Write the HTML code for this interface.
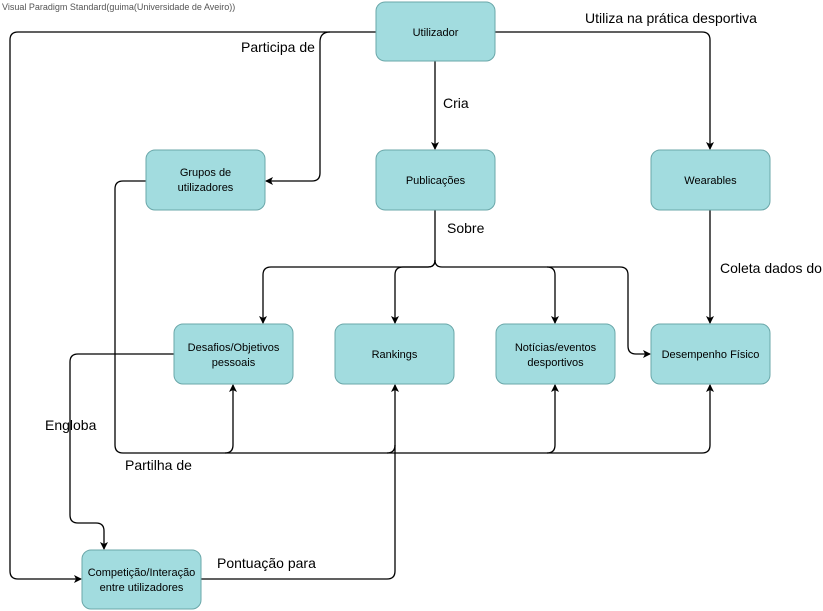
<!DOCTYPE html>
<html><head><meta charset="utf-8"><style>
body{margin:0;background:#fff;width:823px;height:611px;overflow:hidden}
svg{display:block}
text{font-family:"Liberation Sans",sans-serif}
.b{fill:#a2dcdf;stroke:#6aa7a9;stroke-width:1}
.t{font-size:11px;fill:#000;text-anchor:middle}
.l{font-size:14px;fill:#000}
.c{fill:none;stroke:#000;stroke-width:1.3}
</style></head><body>
<svg width="823" height="611" viewBox="0 0 823 611">
<defs><marker id="a" markerWidth="8" markerHeight="8" refX="7" refY="4" orient="auto" markerUnits="userSpaceOnUse"><path d="M0,0 L8,4 L0,8 L2,4 z" fill="#000"/></marker></defs>
<text x="2" y="10" style="font-size:9px;fill:#555">Visual Paradigm Standard(guima(Universidade de Aveiro))</text>
<!-- connectors -->
<path class="c" d="M376,32 H18 Q10,32 10,40 V571 Q10,579 18,579 H81" marker-end="url(#a)"/>
<path class="c" d="M330,32 Q320,32 320,42 V173 Q320,181 312,181 H266" marker-end="url(#a)"/>
<path class="c" d="M435,61 V149" marker-end="url(#a)"/>
<path class="c" d="M495,32 H702 Q710,32 710,40 V149" marker-end="url(#a)"/>
<path class="c" d="M435,210 V260 Q435,267 428,267 H271 Q263,267 263,275 V323" marker-end="url(#a)"/>
<path class="c" d="M435,260 Q435,267 428,267 H403 Q395,267 395,275 V323" marker-end="url(#a)"/>
<path class="c" d="M435,260 Q435,267 442,267 H547 Q555,267 555,275 V323" marker-end="url(#a)"/>
<path class="c" d="M547,267 H620 Q628,267 628,275 V346 Q628,354 636,354 H650" marker-end="url(#a)"/>
<path class="c" d="M710,210 V323" marker-end="url(#a)"/>
<path class="c" d="M146,181 H123 Q115,181 115,189 V445 Q115,453 123,453 H225 Q233,453 233,445 V385" marker-end="url(#a)"/>
<path class="c" d="M225,453 H387 Q395,453 395,445"/>
<path class="c" d="M387,453 H547 Q555,453 555,445 V385" marker-end="url(#a)"/>
<path class="c" d="M547,453 H702 Q710,453 710,445 V385" marker-end="url(#a)"/>
<path class="c" d="M174,354 H78 Q70,354 70,362 V515 Q70,523 78,523 H96 Q104,523 104,531 V549" marker-end="url(#a)"/>
<path class="c" d="M201,579 H387 Q395,579 395,571 V385" marker-end="url(#a)"/>
<!-- boxes -->
<rect class="b" x="376" y="2" width="119" height="59" rx="9"/>
<text class="t" x="435.5" y="36">Utilizador</text>
<rect class="b" x="146" y="150" width="119" height="60" rx="9"/>
<text class="t" x="205.5" y="176">Grupos de</text><text class="t" x="205.5" y="191">utilizadores</text>
<rect class="b" x="376" y="150" width="119" height="60" rx="9"/>
<text class="t" x="435.5" y="184">Publicações</text>
<rect class="b" x="651" y="150" width="119" height="60" rx="9"/>
<text class="t" x="710.5" y="184">Wearables</text>
<rect class="b" x="174" y="324" width="119" height="60" rx="9"/>
<text class="t" x="233.5" y="351">Desafios/Objetivos</text><text class="t" x="233.5" y="366">pessoais</text>
<rect class="b" x="335" y="324" width="119" height="60" rx="9"/>
<text class="t" x="394.5" y="358">Rankings</text>
<rect class="b" x="496" y="324" width="119" height="60" rx="9"/>
<text class="t" x="555.5" y="351">Notícias/eventos</text><text class="t" x="555.5" y="366">desportivos</text>
<rect class="b" x="651" y="324" width="119" height="60" rx="9"/>
<text class="t" x="710.5" y="358">Desempenho Físico</text>
<rect class="b" x="82" y="550" width="119" height="59" rx="9"/>
<text class="t" x="141.5" y="576">Competição/Interação</text><text class="t" x="141.5" y="591">entre utilizadores</text>
<!-- labels -->
<text class="l" x="241" y="52">Participa de</text>
<text class="l" x="585" y="23">Utiliza na prática desportiva</text>
<text class="l" x="443" y="108">Cria</text>
<text class="l" x="447" y="233">Sobre</text>
<text class="l" x="720" y="273">Coleta dados do</text>
<text class="l" x="45" y="430">Engloba</text>
<text class="l" x="125" y="470">Partilha de</text>
<text class="l" x="217" y="568">Pontuação para</text>
</svg>
</body></html>
